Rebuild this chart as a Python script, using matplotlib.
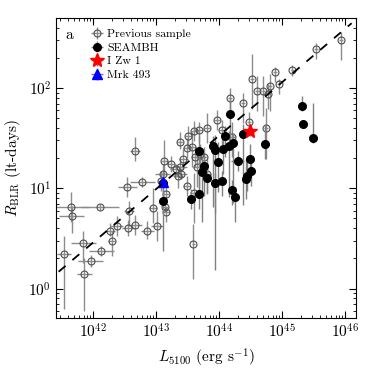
import numpy as np
import matplotlib
matplotlib.use("Agg")
import matplotlib.pyplot as plt

plt.rcParams['font.family'] = 'cmr10'
plt.rcParams['mathtext.fontset'] = 'cm'
plt.rcParams['axes.formatter.use_mathtext'] = True
plt.rcParams['axes.unicode_minus'] = False

# previous sample: log L5100, log R, x err (dex), lower / upper y err (dex)
prev_logL = [41.53, 41.64, 41.66, 41.84, 41.86, 41.96, 42.11, 42.13, 42.26, 42.29,
             42.37, 42.54, 42.56, 42.55, 42.66, 42.66, 42.78, 42.86, 42.95, 43.01,
             43.10, 43.13, 43.14, 43.16, 43.15, 43.23, 43.32, 43.38, 43.35, 43.40,
             43.38, 43.43, 43.48, 43.51, 43.48, 43.56, 43.60, 43.68, 43.62, 43.64,
             43.69, 43.75, 43.81, 43.80, 43.59, 43.60, 43.96, 44.04, 44.20, 44.17,
             44.37, 44.47, 44.52, 44.60, 44.70, 44.74, 44.78, 44.81, 44.88, 44.94,
             45.16, 45.54, 45.93, 43.08]
prev_logR = [0.343, 0.81, 0.727, 0.453, 0.15, 0.277, 0.817, 0.37, 0.577, 0.477,
             0.627, 1.01, 0.777, 0.603, 1.377, 0.633, 1.067, 0.57, 0.80, 0.623,
             1.143, 1.277, 0.81, 0.76, 0.943, 1.243, 1.193, 1.21, 1.127, 1.143,
             1.46, 1.293, 1.027, 1.517, 1.40, 1.41, 1.57, 1.583, 1.31, 1.21,
             1.343, 1.31, 1.60, 1.143, 0.443, 0.95, 1.677, 1.577, 1.51, 1.90,
             1.85, 1.66, 2.087, 1.97, 1.967, 1.597, 1.943, 2.017, 2.16, 2.043,
             2.177, 2.393, 2.483, 1.07]
prev_xerr = [0.11, 0.30, 0.20, 0.20, 0.12, 0.20, 0.30, 0.20, 0.08, 0.06,
             0.10, 0.15, 0.08, 0.10, 0.08, 0.12, 0.20, 0.10, 0.06, 0.10,
             0.12, 0.05, 0.05, 0.06, 0.05, 0.06, 0.10, 0.10, 0.08, 0.08,
             0.05, 0.07, 0.06, 0.06, 0.05, 0.07, 0.05, 0.06, 0.05, 0.05,
             0.05, 0.06, 0.05, 0.07, 0.03, 0.05, 0.05, 0.05, 0.05, 0.03,
             0.03, 0.03, 0.03, 0.03, 0.03, 0.03, 0.03, 0.03, 0.03, 0.03,
             0.03, 0.03, 0.03, 0.05]
prev_ylo = [0.55, 0.15, 0.17, 0.20, 0.37, 0.06, 0.03, 0.05, 0.05, 0.15,
            0.10, 0.10, 0.15, 0.08, 0.10, 0.10, 0.05, 0.08, 0.15, 0.15,
            0.10, 0.15, 0.05, 0.10, 0.08, 0.08, 0.08, 0.10, 0.12, 0.05,
            0.07, 0.10, 0.10, 0.10, 0.10, 0.20, 0.10, 0.12, 0.10, 0.20,
            0.15, 0.20, 0.15, 0.20, 0.35, 0.30, 0.10, 0.15, 0.20, 0.15,
            0.20, 0.10, 0.30, 0.20, 0.25, 0.30, 0.15, 0.25, 0.10, 0.10,
            0.06, 0.10, 0.20, 0.10]
prev_yhi = [0.18, 0.15, 0.10, 0.12, 0.15, 0.06, 0.03, 0.05, 0.08, 0.10,
            0.10, 0.10, 0.10, 0.08, 0.13, 0.10, 0.05, 0.10, 0.20, 0.15,
            0.10, 0.20, 0.10, 0.05, 0.08, 0.08, 0.05, 0.08, 0.07, 0.05,
            0.10, 0.10, 0.10, 0.10, 0.10, 0.15, 0.10, 0.08, 0.10, 0.15,
            0.10, 0.10, 0.15, 0.15, 0.20, 0.20, 0.10, 0.10, 0.15, 0.10,
            0.10, 0.10, 0.25, 0.15, 0.15, 0.20, 0.10, 0.12, 0.05, 0.05,
            0.05, 0.06, 0.08, 0.10]

# SEAMBH sample
seam_logL = [43.10, 43.11, 43.55, 43.67, 43.68, 43.72, 43.75, 43.81, 43.90, 43.93,
             43.93, 43.98, 44.05, 44.06, 44.09, 44.17, 44.16, 44.21, 44.20, 44.25,
             44.29, 44.38, 44.42, 44.44, 44.49, 44.51, 44.72, 45.31, 45.33, 45.48]
seam_logR = [1.05, 0.877, 0.893, 1.377, 0.943, 1.16, 1.227, 1.103, 1.417, 1.383,
             1.053, 1.26, 1.077, 1.393, 1.517, 1.737, 1.417, 1.45, 0.983, 0.917,
             1.277, 1.537, 1.093, 1.127, 1.293, 1.177, 1.443, 1.82, 1.643, 1.503]
seam_xerr = [0.03, 0.03, 0.03, 0.04, 0.03, 0.03, 0.03, 0.03, 0.03, 0.03,
             0.03, 0.06, 0.03, 0.03, 0.03, 0.03, 0.03, 0.03, 0.03, 0.03,
             0.10, 0.03, 0.03, 0.03, 0.03, 0.03, 0.03, 0.03, 0.03, 0.03]
seam_ylo = [0.15, 0.50, 0.10, 0.40, 0.15, 0.50, 0.30, 0.15, 0.60, 1.20,
            0.30, 0.30, 0.15, 0.25, 0.20, 0.30, 0.50, 0.60, 0.15, 0.25,
            0.10, 0.70, 0.20, 0.15, 0.20, 0.15, 0.15, 0.05, 0.04, 0.05]
seam_yhi = [0.10, 0.10, 0.10, 0.15, 0.20, 0.15, 0.10, 0.15, 0.10, 0.15,
            0.10, 0.20, 0.10, 0.10, 0.10, 0.15, 0.15, 0.10, 0.10, 0.10,
            0.10, 0.10, 0.20, 0.20, 0.15, 0.15, 0.20, 0.10, 0.04, 0.35]

izw1 = (44.48, 1.567, 0.03, 0.05, 0.05)
mrk493 = (43.10, 1.06, 0.03, 0.10, 0.10)

# R-L relation: log R = K + alpha (log L - 44)
K, alpha = 1.527, 0.533
fit_logL = [41.45, 46.1]


def errs(logL, logR, xe, ylo, yhi):
    logL, logR, xe = np.array(logL), np.array(logR), np.array(xe)
    ylo, yhi = np.array(ylo), np.array(yhi)
    L, R = 10**logL, 10**logR
    xerr = [L - 10**(logL - xe), 10**(logL + xe) - L]
    yerr = [R - 10**(logR - ylo), 10**(logR + yhi) - R]
    return L, R, xerr, yerr


fig = plt.figure(figsize=(3.74, 3.74), dpi=100)
ax = fig.add_axes([0.150, 0.150, 0.802, 0.802])

L, R, xe, ye = errs(prev_logL, prev_logR, prev_xerr, prev_ylo, prev_yhi)
ax.errorbar(L, R, xerr=xe, yerr=ye, fmt='o', ms=5, mfc='none', mec='0.3', mew=0.8,
            ecolor='0.55', elinewidth=1.0, capsize=0, label='Previous sample', zorder=2)

L, R, xe, ye = errs(seam_logL, seam_logR, seam_xerr, seam_ylo, seam_yhi)
ax.errorbar(L, R, xerr=xe, yerr=ye, fmt='o', ms=5.5, mfc='k', mec='k',
            ecolor='0.5', elinewidth=1.0, capsize=0, label='SEAMBH', zorder=3)

L, R, xe, ye = errs([izw1[0]], [izw1[1]], [izw1[2]], [izw1[3]], [izw1[4]])
ax.errorbar(L, R, xerr=xe, yerr=ye, fmt='*', ms=10, mfc='r', mec='r',
            ecolor='0.5', elinewidth=1.0, capsize=0, label='I Zw 1', zorder=4)

L, R, xe, ye = errs([mrk493[0]], [mrk493[1]], [mrk493[2]], [mrk493[3]], [mrk493[4]])
ax.errorbar(L, R, xerr=xe, yerr=ye, fmt='^', ms=7, mfc='b', mec='b',
            ecolor='0.5', elinewidth=1.0, capsize=0, label='Mrk 493', zorder=4)

fl = np.array(fit_logL)
ax.plot(10**fl, 10**(K + alpha*(fl - 44)), 'k--', lw=1.3, dashes=(5, 5), zorder=5)

ax.set_xscale('log')
ax.set_yscale('log')
ax.set_xlim(10**41.41, 10**46.17)
ax.set_ylim(0.51, 500)
ax.tick_params(which='both', direction='in', top=True, right=True, labelsize=11)
ax.tick_params(which='major', length=5)
ax.tick_params(which='minor', length=2.5)
ax.set_xlabel(r'$L_{5100}$ (erg s$^{-1}$)', fontsize=11)
ax.set_ylabel(r'$R_{\rm BLR}$ (lt-days)', fontsize=11)

ax.text(0.03, 0.965, 'a', transform=ax.transAxes, fontsize=11, va='top')
ax.legend(loc='upper left', bbox_to_anchor=(0.08, 1.0), frameon=False, numpoints=1,
          fontsize=8.5, handlelength=1.0, handletextpad=0.4, labelspacing=0.3)

fig.savefig('out.png', dpi=100)
